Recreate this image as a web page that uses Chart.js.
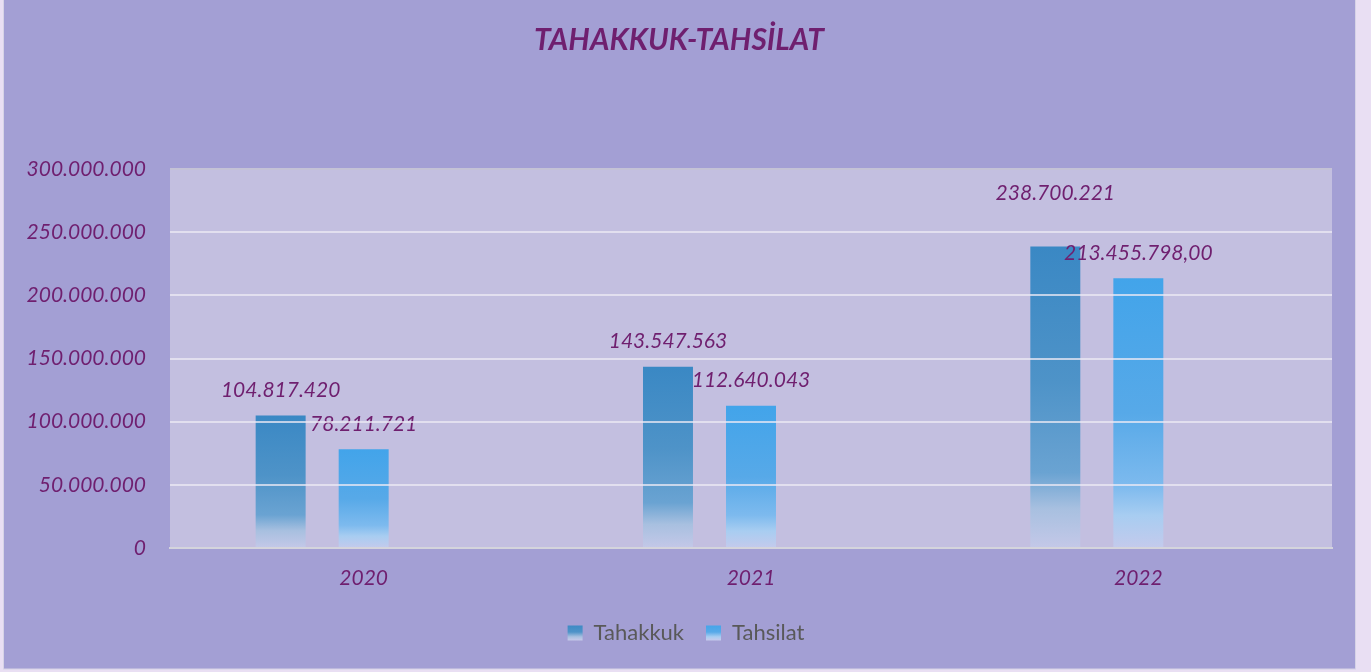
<!DOCTYPE html>
<html>
<head>
<meta charset="utf-8">
<script src="https://cdn.jsdelivr.net/npm/chart.js@4"></script>
<style>
html,body{margin:0;padding:0;background:#e9dff3;}
#wrap{position:absolute;left:0;top:0;width:1371px;height:672px;}
</style>
</head>
<body>
<div id="wrap"><canvas id="c" width="1371" height="672"></canvas></div>
<script>
const categories = ['2020', '2021', '2022'];
const tahakkuk = [104817420, 143547563, 238700221];
const tahsilat = [78211721, 112640043, 213455798];
const tahakkukLabels = ['104.817.420', '143.547.563', '238.700.221'];
const tahsilatLabels = ['78.211.721', '112.640.043', '213.455.798,00'];
const yTickValues = [0, 50000000, 100000000, 150000000, 200000000, 250000000, 300000000];
const yTickLabels = ['0', '50.000.000', '100.000.000', '150.000.000', '200.000.000', '250.000.000', '300.000.000'];
const titleText = 'TAHAKKUK-TAHSİLAT';

const PURPLE = '#6f1f6f';
const FONT = 'Lato, "Open Sans", sans-serif';

const stopsA = [[0,'#3a88c4'],[0.45,'#4e93c8'],[0.75,'#6aa3d2'],[0.87,'#a8c0e0'],[1,'#c4c8e8']];
const stopsB = [[0,'#42a4ea'],[0.5,'#57a9e8'],[0.77,'#7dbaee'],[0.88,'#a8cdf1'],[1,'#c4caec']];

function barGradient(stops){
  return function(ctx){
    const chart = ctx.chart;
    if (!chart.chartArea || ctx.raw == null) return stops[0][1];
    const ys = chart.scales.y;
    const top = ys.getPixelForValue(ctx.raw);
    const base = ys.getPixelForValue(0);
    if (!isFinite(top) || !isFinite(base) || top === base) return stops[0][1];
    const g = chart.ctx.createLinearGradient(0, top, 0, base);
    stops.forEach(s => g.addColorStop(s[0], s[1]));
    return g;
  };
}

const framePlugin = {
  id: 'frame',
  afterLayout(chart){
    if (chart.legend) { chart.legend.left += 20; chart.legend.right += 20; }
  },
  beforeDraw(chart){
    const c = chart.ctx;
    c.save();
    c.fillStyle = '#e9dff3';
    c.fillRect(0, 0, chart.width, chart.height);
    c.fillStyle = '#a39fd4';
    c.fillRect(3, 0, 1353, 669);
    c.strokeStyle = '#d6d3e6';
    c.lineWidth = 1;
    c.strokeRect(3.5, -1, 1352, 670);
    const a = chart.chartArea;
    c.fillStyle = '#c3bfe0';
    c.fillRect(a.left, a.top, a.right - a.left, a.bottom - a.top);
    // title
    c.fillStyle = PURPLE;
    c.font = 'italic bold 30px ' + FONT;
    c.textAlign = 'center';
    c.textBaseline = 'middle';
    c.fillText(titleText, 679, 40);
    c.restore();
  }
};

const labelPlugin = {
  id: 'valueLabels',
  afterDatasetsDraw(chart){
    const c = chart.ctx;
    c.save();
    c.fillStyle = PURPLE;
    c.font = 'italic 21px ' + FONT;
    c.textAlign = 'center';
    c.textBaseline = 'middle';
    const sets = [tahakkukLabels, tahsilatLabels];
    sets.forEach((labels, di) => {
      const meta = chart.getDatasetMeta(di);
      meta.data.forEach((el, i) => {
        let off = 25;
        if (di === 0 && i === 2) off = 53;
        c.fillText(labels[i], el.x, el.y - off);
      });
    });
    c.restore();
  }
};

new Chart(document.getElementById('c'), {
  type: 'bar',
  data: {
    labels: categories,
    datasets: [
      { label: 'Tahakkuk', data: tahakkuk, backgroundColor: barGradient(stopsA), borderWidth: 0 },
      { label: 'Tahsilat', data: tahsilat, backgroundColor: barGradient(stopsB), borderWidth: 0 },
      { label: '', data: [null, null, null], backgroundColor: 'rgba(0,0,0,0)', borderWidth: 0 }
    ]
  },
  plugins: [framePlugin, labelPlugin],
  options: {
    responsive: false,
    animation: false,
    devicePixelRatio: 1,
    layout: { padding: { left: 0, right: 39, top: 169, bottom: 18 } },
    datasets: { bar: { categoryPercentage: 0.643, barPercentage: 0.602 } },
    scales: {
      x: {
        grid: { display: false, drawTicks: false },
        border: { display: true, color: '#d4d4dc', width: 2 },
        ticks: { color: PURPLE, font: { family: FONT, size: 21, style: 'italic' }, padding: 18 },
        afterFit(s){ s.height = 52; }
      },
      y: {
        min: 0, max: 300000000,
        afterBuildTicks(s){ s.ticks = yTickValues.map(v => ({ value: v })); },
        grid: {
          z: 1, drawTicks: false, lineWidth: 2,
          color: (ctx) => ctx.tick && ctx.tick.value === 300000000 ? '#c4c2d6' : (ctx.tick && ctx.tick.value === 0 ? 'rgba(0,0,0,0)' : 'rgba(236,234,244,0.75)')
        },
        border: { display: false },
        ticks: {
          color: PURPLE, padding: 24,
          font: { family: FONT, size: 21, style: 'italic' },
          callback: (v) => { const i = yTickValues.indexOf(v); return i >= 0 ? yTickLabels[i] : ''; }
        },
        afterFit(s){ s.width = 170; }
      }
    },
    plugins: {
      title: { display: false },
      tooltip: { enabled: false },
      legend: {
        position: 'bottom',
        labels: {
          color: '#595959',
          font: { family: FONT, size: 22 },
          boxWidth: 15, boxHeight: 15, padding: 22,
          generateLabels(chart){
            const out = [];
            [['Tahakkuk', stopsA], ['Tahsilat', stopsB]].forEach((p, i) => {
              const g = chart.ctx.createLinearGradient(0, 624, 0, 640);
              g.addColorStop(0, p[1][0][1]); g.addColorStop(0.5, p[1][1][1]); g.addColorStop(0.8, p[1][3][1]); g.addColorStop(1, p[1][4][1]);
              out.push({ text: p[0], fillStyle: g, strokeStyle: 'rgba(0,0,0,0)', lineWidth: 0, datasetIndex: i, hidden: false, fontColor: '#595959' });
            });
            return out;
          }
        }
      }
    }
  }
});
</script>
</body>
</html>
